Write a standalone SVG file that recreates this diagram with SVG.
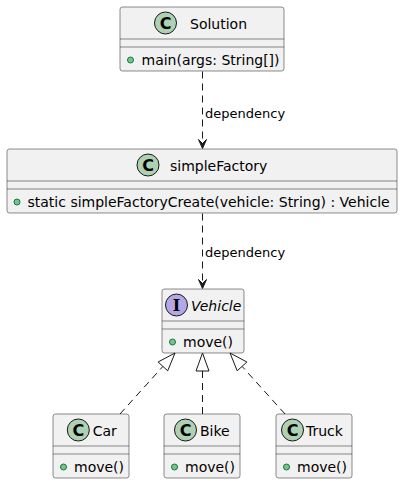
<svg xmlns="http://www.w3.org/2000/svg" width="403" height="484" viewBox="0 0 403 484">
<defs>
<style>
.box{fill:#F1F1F1;stroke:#181818;stroke-width:0.5}
.sep{stroke:#181818;stroke-width:0.5}
.cc{fill:#ADD1B2;stroke:#181818;stroke-width:1}
.ic{fill:#B4A7E5;stroke:#181818;stroke-width:1}
.let{font-family:"DejaVu Sans",sans-serif;font-size:16px;font-weight:bold;fill:#000;text-anchor:middle}
.leti{font-family:"DejaVu Serif",serif;font-size:16px;font-weight:bold;fill:#000;text-anchor:middle}
.name{font-family:"DejaVu Sans",sans-serif;font-size:14px;fill:#000}
.mem{font-family:"DejaVu Sans",sans-serif;font-size:14px;fill:#000}
.dot{fill:#84BE84;stroke:#038048;stroke-width:1}
.edge{stroke:#181818;stroke-width:1;fill:none;stroke-dasharray:7,5}
.head{fill:#181818;stroke:#181818;stroke-width:1}
.tri{fill:none;stroke:#181818;stroke-width:1}
.lbl{font-family:"DejaVu Sans",sans-serif;font-size:13px;fill:#000}
</style>
</defs>
<g id="Solution">
<rect class="box" x="120" y="7" width="164" height="64" rx="2.5"/>
<circle class="cc" cx="165.5" cy="23" r="11"/>
<text class="let" x="165.5" y="28.8">C</text>
<text class="name" x="190" y="28.9">Solution</text>
<line class="sep" x1="120" y1="39" x2="284" y2="39"/>
<line class="sep" x1="120" y1="47" x2="284" y2="47"/>
<circle class="dot" cx="130.5" cy="60" r="3"/>
<text class="mem" x="141.5" y="64.5">main(args: String[])</text>
</g>
<g id="simpleFactory">
<rect class="box" x="7" y="149" width="390" height="64" rx="2.5"/>
<circle class="cc" cx="148" cy="165" r="11"/>
<text class="let" x="148" y="170.8">C</text>
<text class="name" x="170" y="170.9">simpleFactory</text>
<line class="sep" x1="7" y1="181" x2="397" y2="181"/>
<line class="sep" x1="7" y1="189" x2="397" y2="189"/>
<circle class="dot" cx="17" cy="202" r="3"/>
<text class="mem" x="27.5" y="206.5">static simpleFactoryCreate(vehicle: String) : Vehicle</text>
</g>
<g id="Vehicle">
<rect class="box" x="162" y="289" width="82" height="64" rx="2.5"/>
<circle class="ic" cx="176.5" cy="305" r="11"/>
<text class="leti" x="176.5" y="310.8">I</text>
<text class="name" x="191" y="310.9" font-style="italic">Vehicle</text>
<line class="sep" x1="162" y1="321" x2="244" y2="321"/>
<line class="sep" x1="162" y1="329" x2="244" y2="329"/>
<circle class="dot" cx="172.5" cy="342" r="3"/>
<text class="mem" x="183" y="346.5">move()</text>
</g>
<g id="Car">
<rect class="box" x="53" y="414" width="76" height="64" rx="2.5"/>
<circle class="cc" cx="78.3" cy="430" r="11"/>
<text class="let" x="78.3" y="435.8">C</text>
<text class="name" x="92.7" y="435.9">Car</text>
<line class="sep" x1="53" y1="446" x2="129" y2="446"/>
<line class="sep" x1="53" y1="454" x2="129" y2="454"/>
<circle class="dot" cx="63.5" cy="467" r="3"/>
<text class="mem" x="74" y="471.5">move()</text>
</g>
<g id="Bike">
<rect class="box" x="164" y="414" width="76" height="64" rx="2.5"/>
<circle class="cc" cx="185.5" cy="430" r="11"/>
<text class="let" x="185.5" y="435.8">C</text>
<text class="name" x="200" y="435.9">Bike</text>
<line class="sep" x1="164" y1="446" x2="240" y2="446"/>
<line class="sep" x1="164" y1="454" x2="240" y2="454"/>
<circle class="dot" cx="174.5" cy="467" r="3"/>
<text class="mem" x="185" y="471.5">move()</text>
</g>
<g id="Truck">
<rect class="box" x="276" y="414" width="76" height="64" rx="2.5"/>
<circle class="cc" cx="292.5" cy="430" r="11"/>
<text class="let" x="292.5" y="435.8">C</text>
<text class="name" x="306" y="435.9">Truck</text>
<line class="sep" x1="276" y1="446" x2="352" y2="446"/>
<line class="sep" x1="276" y1="454" x2="352" y2="454"/>
<circle class="dot" cx="286.5" cy="467" r="3"/>
<text class="mem" x="297" y="471.5">move()</text>
</g>
<g id="connectors">
<line class="edge" x1="202.5" y1="71.5" x2="202.5" y2="146"/>
<polygon class="head" points="202.5,148.5 198.5,139.5 202.5,143.5 206.5,139.5"/>
<text class="lbl" x="205" y="117.5">dependency</text>
<line class="edge" x1="202.5" y1="213.5" x2="202.5" y2="286"/>
<polygon class="head" points="202.5,288.5 198.5,279.5 202.5,283.5 206.5,279.5"/>
<text class="lbl" x="205" y="256.5">dependency</text>
<line class="edge" x1="120" y1="414" x2="162.9" y2="366.4"/>
<polygon class="tri" points="175,353 167.7,370.8 158.1,362"/>
<line class="edge" x1="202.5" y1="414" x2="202.5" y2="371"/>
<polygon class="tri" points="202.5,353 196,371 209,371"/>
<line class="edge" x1="285" y1="414" x2="242.1" y2="366.4"/>
<polygon class="tri" points="230,353 246.9,362 237.2,370.8"/>
</g>
</svg>
